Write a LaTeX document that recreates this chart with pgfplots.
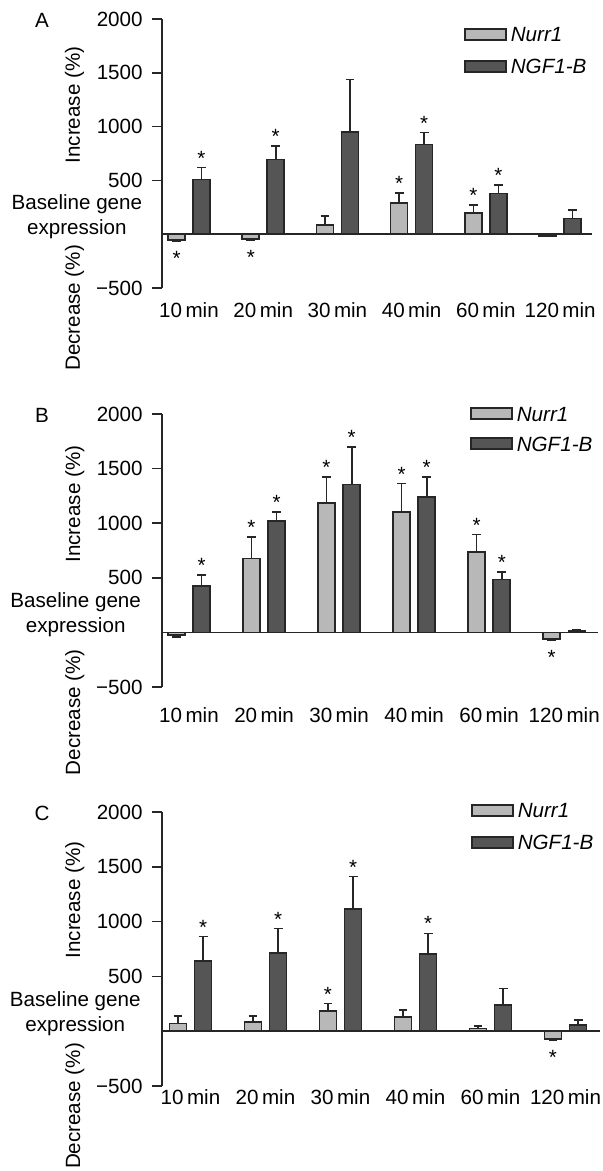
\documentclass[border=0pt]{standalone}
\usepackage{fontspec}
\setmainfont{Liberation Sans}
\usepackage{pgfplots}
\usepackage{pgfplotstable}
\pgfplotsset{compat=1.18}

\definecolor{nurrfill}{HTML}{B8B8B8}
\definecolor{ngffill}{HTML}{555555}
\definecolor{edge}{HTML}{262626}

% x: time point index, n/g: Nurr1 / NGF1-B value (%), ne/ge: SEM,
% ns/gs: significance star (1 above, -1 below, 0 none)
\pgfplotstableread{
x   n     ne    ns   g     ge    gs
0   -55   12    -1   510   110   1
1   -45   10    -1   693   127   1
2    84   86     0   950   489   0
3   288   96     1   832   112   1
4   198   74     1   377    81   1
5   -15    5     0   145    81   0
}\dataA

\pgfplotstableread{
x   n     ne    ns   g     ge    gs
0   -25   15     0   425    98   1
1   675   199    1   1018   85   1
2   1186  238    1   1354  345   1
3   1100  263    1   1238  186   1
4   737   158    1   483    70   1
5   -60   10    -1   15      5   0
}\dataB

\pgfplotstableread{
x   n     ne    ns   g     ge    gs
0    70   70     0   640   223   1
1    85   52     0   716   220   1
2   186   67     1   1113  299   1
3   131   61     0   704   189   1
4    24   25     0   238   152   0
5   -70   10    -1   55     45   0
}\dataC

\def\off{0.168}

\pgfplotsset{
  panel/.style={
    scale only axis,
    clip=false,
    ymin=-500, ymax=2000,
    ytick={-500,500,1000,1500,2000},
    yticklabels={−500,500,1000,1500,2000},
    axis y line*=left, axis x line*=bottom,
    x axis line style={draw=none},
    y axis line style={line width=0.8pt, draw=edge},
    ytick style={line width=0.8pt, draw=edge},
    xtick style={draw=none},
    tick align=outside, major tick length=5pt,
    xtick={0,...,5},
    xticklabels={10\,min,20\,min,30\,min,40\,min,60\,min,120\,min},
    xticklabel style={inner sep=0pt, anchor=north},
    yticklabel style={inner sep=0pt, xshift=-4.5pt},
    extra y ticks={0}, extra y tick labels={\empty},
    extra y tick style={grid=major, major grid style={line width=0.8pt, draw=edge}, major tick length=0pt},
    legend style={draw=none, fill=none, inner sep=0pt, anchor=north west,
      row sep=6.5pt, column sep=1pt,
      nodes={inner sep=1pt, text height=7.5pt, text depth=0pt, font=\itshape}},
    legend cell align=left,
    legend image code/.code={\draw[#1] (0pt,-2.75pt) rectangle (20.5pt,2.75pt);},
  },
  bars/.style={ybar, bar width=8.5pt, bar shift=0pt, draw=edge, line width=0.8pt,
    error bars/y dir=both, error bars/y explicit,
    error bars/error bar style={line width=0.8pt, draw=edge},
    error bars/error mark options={rotate=90, line width=0.8pt, mark size=2.2pt, draw=edge}},
  nurr/.style={bars, fill=nurrfill},
  ngf/.style={bars, fill=ngffill},
  starup/.style={draw=none, mark=none, forget plot, nodes near coords={*},
    every node near coord/.append style={anchor=south, inner sep=1pt}},
  stardown/.style={draw=none, mark=none, forget plot, nodes near coords={*},
    every node near coord/.append style={anchor=north, inner sep=1pt, yshift=-4pt}},
}

\newcommand{\panelplots}[1]{%
  \addplot[nurr] table[x expr=\thisrow{x}-\off, y=n,
    y error plus expr={\thisrow{ne}*(\thisrow{n}>0)},
    y error minus expr={\thisrow{ne}*(\thisrow{n}<0)}] {#1};
  \addlegendentry{Nurr1}
  \addplot[ngf] table[x expr=\thisrow{x}+\off, y=g,
    y error plus expr={\thisrow{ge}*(\thisrow{g}>0)},
    y error minus expr={\thisrow{ge}*(\thisrow{g}<0)}] {#1};
  \addlegendentry{NGF1-B}
  \addplot[starup, restrict expr to domain={\thisrow{ns}}{0.5:1.5}]
    table[x expr=\thisrow{x}-\off, y expr=\thisrow{n}+\thisrow{ne}] {#1};
  \addplot[stardown, restrict expr to domain={\thisrow{ns}}{-1.5:-0.5}]
    table[x expr=\thisrow{x}-\off, y expr=\thisrow{n}-\thisrow{ne}] {#1};
  \addplot[starup, restrict expr to domain={\thisrow{gs}}{0.5:1.5}]
    table[x expr=\thisrow{x}+\off, y expr=\thisrow{g}+\thisrow{ge}] {#1};
}

\newcommand{\sidelabels}[5]{% letter, x of letter, x of rotated labels, y increase, y decrease
  \node at (axis description cs:#2,0.995) {#1};
  \node[rotate=90, anchor=base] at (axis description cs:#3,#4) {Increase (\%)};
  \node[rotate=90, anchor=base] at (axis description cs:#3,#5) {Decrease (\%)};
  \node[anchor=base] at (axis description cs:-0.198,0.2) {expression};
  \node[anchor=base, yshift=12.5pt] at (axis description cs:-0.198,0.2) {Baseline gene};
}

\begin{document}
\fontsize{10.3}{12.4}\selectfont
\begin{tikzpicture}
\useasboundingbox (0pt,0pt) rectangle (301pt,-585.5pt);

\begin{axis}[panel, at={(81pt,-144pt)}, anchor=south west,
  width=215pt, height=134.5pt, xmin=-0.364, xmax=5.43,
  xticklabel style={yshift=-2pt},
  legend style={at={(axis description cs:0.702,0.980)}}]
  \panelplots{\dataA}
  \sidelabels{A}{-0.279}{-0.191}{0.680}{-0.074}
\end{axis}

\begin{axis}[panel, at={(81pt,-343.5pt)}, anchor=south west,
  width=218pt, height=136.5pt, xmin=-0.36, xmax=5.45,
  xticklabel style={yshift=-5pt},
  legend style={at={(axis description cs:0.706,1.038)}, row sep=5.5pt}]
  \panelplots{\dataB}
  \sidelabels{B}{-0.275}{-0.188}{0.670}{-0.092}
\end{axis}

\begin{axis}[panel, at={(81pt,-543pt)}, anchor=south west,
  width=219pt, height=137pt, xmin=-0.38, xmax=5.46,
  xticklabel style={yshift=3.5pt},
  legend style={at={(axis description cs:0.705,1.042)}}]
  \panelplots{\dataC}
  \sidelabels{C}{-0.274}{-0.187}{0.679}{-0.073}
\end{axis}
\end{tikzpicture}
\end{document}
